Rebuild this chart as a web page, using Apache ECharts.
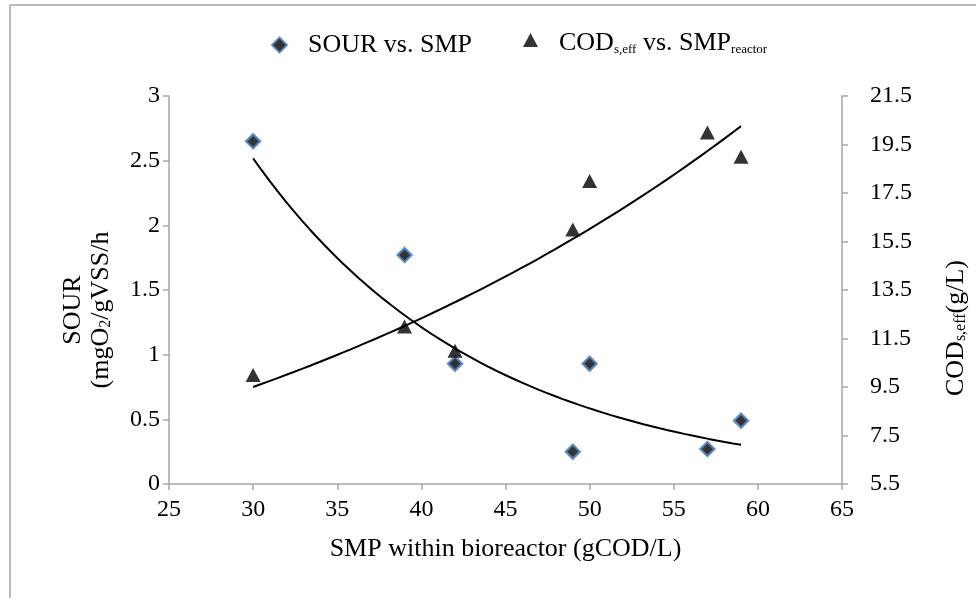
<!DOCTYPE html>
<html>
<head>
<meta charset="utf-8">
<script src="https://cdn.jsdelivr.net/npm/echarts@6/dist/echarts.min.js"></script>
<style>html,body{margin:0;padding:0;background:#fff}#c{width:976px;height:598px}</style>
</head>
<body>
<div id="c"></div>
<script>
// ---- data ----
const smpX = [30, 39, 42, 49, 50, 57, 59];
const sourY = [2.65, 1.77, 0.93, 0.25, 0.93, 0.27, 0.49];
const codY = [10.0, 12.0, 11.0, 16.0, 18.0, 20.0, 19.0];
const xTicks = [25, 30, 35, 40, 45, 50, 55, 60, 65];
const leftTicks = [0, 0.5, 1, 1.5, 2, 2.5, 3];
const rightTicks = [5.5, 7.5, 9.5, 11.5, 13.5, 15.5, 17.5, 19.5, 21.5];

// exponential least-squares trendline (as in spreadsheet "exponential trendline")
function expFit(xs, ys) {
  const n = xs.length;
  const ly = ys.map(Math.log);
  const mx = xs.reduce((a, b) => a + b, 0) / n;
  const my = ly.reduce((a, b) => a + b, 0) / n;
  let sxy = 0, sxx = 0;
  for (let i = 0; i < n; i++) { sxy += (xs[i] - mx) * (ly[i] - my); sxx += (xs[i] - mx) ** 2; }
  const b = sxy / sxx, a = my - b * mx;
  const x0 = Math.min(...xs), x1 = Math.max(...xs);
  const pts = [];
  const steps = 60;
  for (let k = 0; k <= steps; k++) {
    const x = x0 + (x1 - x0) * k / steps;
    pts.push([x, Math.exp(a + b * x)]);
  }
  return pts;
}

const FONT = 'Liberation Serif';
const AXC = '#a6a6a6';
const chart = echarts.init(document.getElementById('c'));

const axisCommon = {
  axisLine: { show: true, lineStyle: { color: AXC, width: 1.5 } },
  axisTick: { show: true, inside: false, length: 6, lineStyle: { color: AXC, width: 1.5 } },
  splitLine: { show: false },
  axisLabel: { color: '#000', fontFamily: FONT, fontSize: 24 }
};

chart.setOption({
  animation: false,
  backgroundColor: '#fff',
  grid: { left: 169, right: 134, top: 96, bottom: 114, containLabel: false },
  legend: [
    {
      data: ['SOUR vs. SMP'], left: 266, top: 27, itemWidth: 15, itemHeight: 15, itemGap: 0,
      textStyle: { fontFamily: FONT, fontSize: 26, color: '#000', padding: [0, 0, 0, 16] }
    },
    {
      data: ['COD vs. SMP'], left: 518, top: 25, itemWidth: 15, itemHeight: 14, itemGap: 0,
      formatter: () => '{n|COD}{s|s,eff}{n| vs. SMP}{s|reactor}',
      textStyle: {
        fontFamily: FONT, fontSize: 26, color: '#000', padding: [0, 0, 0, 16],
        rich: {
          n: { fontFamily: FONT, fontSize: 26, lineHeight: 32, verticalAlign: 'bottom', color: '#000' },
          s: { fontFamily: FONT, fontSize: 13, lineHeight: 12, verticalAlign: 'bottom', color: '#000' }
        }
      }
    }
  ],
  xAxis: Object.assign({}, axisCommon, {
    type: 'value', min: 25, max: 65, interval: 5,
    axisLabel: Object.assign({}, axisCommon.axisLabel, { margin: 14, customValues: xTicks }),
    axisTick: Object.assign({}, axisCommon.axisTick, { customValues: xTicks }),
    name: 'SMP within bioreactor (gCOD/L)', nameLocation: 'middle', nameGap: 52,
    nameTextStyle: { fontFamily: FONT, fontSize: 26, color: '#000' }
  }),
  yAxis: [
    Object.assign({}, axisCommon, {
      type: 'value', min: 0, max: 3, interval: 0.5, position: 'left',
      axisLabel: Object.assign({}, axisCommon.axisLabel, { margin: 9, customValues: leftTicks }),
      axisTick: Object.assign({}, axisCommon.axisTick, { customValues: leftTicks })
    }),
    Object.assign({}, axisCommon, {
      type: 'value', min: 5.5, max: 21.5, position: 'right',
      axisLabel: Object.assign({}, axisCommon.axisLabel, { margin: 28, customValues: rightTicks,
        formatter: v => v.toFixed(1) }),
      axisTick: Object.assign({}, axisCommon.axisTick, { customValues: rightTicks })
    })
  ],
  graphic: [
    { type: 'line', shape: { x1: 10, y1: 5, x2: 976, y2: 5 }, style: { stroke: '#a6a6a6', lineWidth: 1.5 } },
    { type: 'line', shape: { x1: 10, y1: 5, x2: 10, y2: 598 }, style: { stroke: '#a6a6a6', lineWidth: 1.5 } },
    {
      type: 'text', x: 86, y: 310, rotation: Math.PI / 2,
      style: {
        text: '{n|SOUR}\n{n|(mgO}{s|2}{n|/gVSS/h}',
        align: 'center', verticalAlign: 'middle', fill: '#000',
        rich: {
          n: { fontFamily: FONT, fontSize: 26, lineHeight: 28, verticalAlign: 'bottom', fill: '#000' },
          s: { fontFamily: FONT, fontSize: 16, lineHeight: 13, verticalAlign: 'bottom', fill: '#000' }
        }
      }
    },
    {
      type: 'text', x: 955, y: 328, rotation: Math.PI / 2,
      style: {
        text: '{n|COD}{s|s,eff}{n|(g/L)}',
        align: 'center', verticalAlign: 'middle', fill: '#000',
        rich: {
          n: { fontFamily: FONT, fontSize: 26, lineHeight: 28, verticalAlign: 'bottom', fill: '#000' },
          s: { fontFamily: FONT, fontSize: 16, lineHeight: 13, verticalAlign: 'bottom', fill: '#000' }
        }
      }
    }
  ],
  series: [
    {
      name: 'SOUR trend', type: 'line', yAxisIndex: 0, data: expFit(smpX, sourY),
      showSymbol: false, symbol: 'none', lineStyle: { color: '#000', width: 2 }, silent: true, z: 1
    },
    {
      name: 'COD trend', type: 'line', yAxisIndex: 1, data: expFit(smpX, codY),
      showSymbol: false, symbol: 'none', lineStyle: { color: '#000', width: 2 }, silent: true, z: 1
    },
    {
      name: 'SOUR vs. SMP', type: 'scatter', yAxisIndex: 0, symbol: 'diamond', symbolSize: 14,
      data: smpX.map((x, i) => [x, sourY[i]]),
      itemStyle: { color: '#000', borderColor: '#4f81bd', borderWidth: 2.5 }, z: 3
    },
    {
      name: 'COD vs. SMP', type: 'scatter', yAxisIndex: 1, symbol: 'triangle', symbolSize: [15, 14],
      data: smpX.map((x, i) => [x, codY[i]]),
      itemStyle: { color: '#000' }, z: 3
    }
  ]
});
</script>
</body>
</html>
